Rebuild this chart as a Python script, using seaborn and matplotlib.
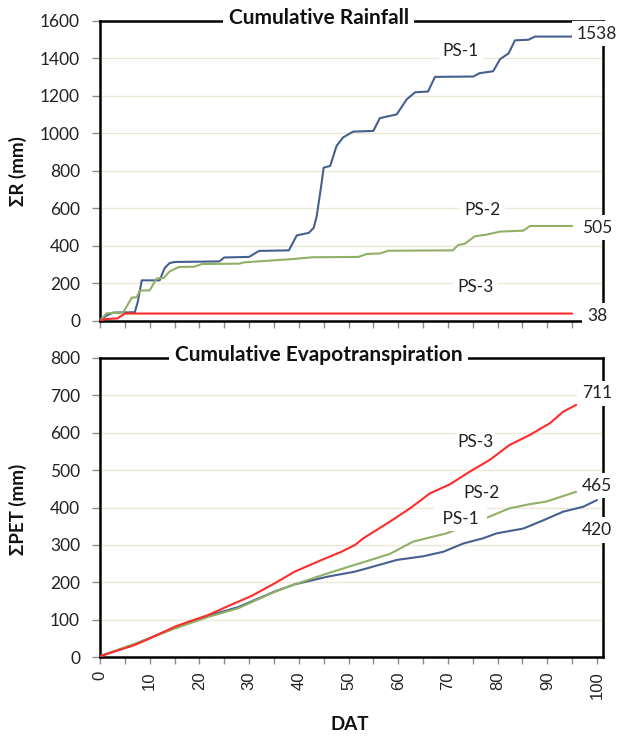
import matplotlib
matplotlib.use("Agg")
import matplotlib.pyplot as plt
import matplotlib.transforms as mtransforms
import seaborn as sns
import pandas as pd

# ---------------- data ----------------
series_names = ["PS-1", "PS-2", "PS-3"]
series_colors = ["#45608f", "#8fb065", "#ff2b2b"]

# Cumulative rainfall (mm) vs days after transplanting
rain_ps1_dat = [0, 1.3, 2.7, 7.0, 7.6, 8.4, 12.0, 13.0, 14.0, 15.0, 24.0, 25.0, 30.0, 32.0, 38.0,
                39.6, 42.0, 43.0, 43.6, 44.6, 45.0, 46.3, 47.6, 48.9, 50.9, 55.0, 56.3, 59.7, 61.7,
                63.4, 66.0, 67.4, 75.1, 76.4, 79.1, 80.5, 82.2, 83.5, 86.2, 87.5, 95.0]
rain_ps1_mm = [0, 27, 43, 45, 100, 215, 215, 280, 307, 313, 316, 337, 340, 372, 375,
               455, 468, 495, 557, 736, 816, 825, 932, 977, 1008, 1012, 1080, 1100, 1180,
               1218, 1222, 1300, 1302, 1320, 1330, 1395, 1425, 1495, 1498, 1515, 1515]
rain_ps2_dat = [0, 1.3, 4.7, 6.4, 7.4, 8.0, 10.0, 11.4, 12.8, 14.0, 15.8, 19.0, 20.5, 28.0, 29.0,
                34.0, 39.0, 42.6, 52.0, 53.7, 56.3, 58.0, 71.0, 72.1, 73.4, 75.4, 77.8, 80.5,
                85.2, 86.5, 95.0]
rain_ps2_mm = [0, 39, 45, 123, 125, 160, 162, 225, 228, 262, 286, 288, 302, 304, 311,
               320, 329, 338, 340, 356, 358, 373, 375, 404, 410, 450, 459, 475,
               480, 505, 505]
rain_ps3_dat = [0, 1.0, 3.5, 5.0, 95.0]
rain_ps3_mm = [0, 8, 12, 38, 38]

# Cumulative evapotranspiration (mm)
pet_ps1_dat = [0, 7, 15, 21.8, 27.8, 35.2, 39.2, 46, 51, 53, 59.7, 65.1, 69.1, 73.1, 77.1, 79.8,
               85.2, 89.2, 93.2, 97.2, 100]
pet_ps1_mm = [3, 35, 79, 111, 134, 176, 195, 216, 228, 235, 260, 270, 282, 304, 318, 331,
              344, 366, 389, 402, 420]
pet_ps2_dat = [0, 7, 15.1, 21.8, 27.8, 35.2, 39.2, 46, 51, 53, 58.3, 63, 69.7, 77.5, 82.4, 86.5,
               89.8, 95.8]
pet_ps2_mm = [3, 36, 77, 108, 131, 175, 195, 225, 246, 254, 276, 309, 331, 371, 398, 409,
              416, 442]
pet_ps3_dat = [0, 7, 10.1, 15.1, 17.8, 21.8, 25.8, 30.5, 35.2, 39.2, 44.6, 48.6, 51.3, 53, 57.7,
               62.4, 66.4, 70.4, 74.4, 78.4, 82.4, 86.5, 90.5, 93.2, 95.8]
pet_ps3_mm = [3, 33, 51, 82, 95, 113, 137, 164, 198, 229, 260, 282, 300, 318, 357,
              398, 438, 462, 496, 527, 567, 594, 625, 656, 674]

# labels
rain_total_labels = ["1538", "505", "38"]
rain_total_y = [1530, 495, 25]
rain_name_xy = [(72.6, 1436), (76.9, 591), (75.5, 180)]
pet_total_labels = ["711", "465", "420"]
pet_total_y = [705, 458, 340]
pet_name_xy = [(72.5, 369), (76.7, 438), (75.5, 575)]

title_rain = "Cumulative Rainfall"
title_pet = "Cumulative Evapotranspiration"
ylabel_rain = "ΣR (mm)"
ylabel_pet = "ΣPET (mm)"
xlabel = "DAT"

x_ticks_major = list(range(0, 101, 10))
x_ticks_minor = list(range(5, 100, 10))
x_ticks_top = list(range(0, 96, 5))
rain_yticks = list(range(0, 1601, 200))
pet_yticks = list(range(0, 801, 100))

# ---------------- frames ----------------
def long_df(pairs):
    frames = []
    for name, (xs, ys) in zip(series_names, pairs):
        frames.append(pd.DataFrame({"DAT": xs, "mm": ys, "series": name}))
    return pd.concat(frames, ignore_index=True)

rain_df = long_df([(rain_ps1_dat, rain_ps1_mm), (rain_ps2_dat, rain_ps2_mm), (rain_ps3_dat, rain_ps3_mm)])
pet_df = long_df([(pet_ps1_dat, pet_ps1_mm), (pet_ps2_dat, pet_ps2_mm), (pet_ps3_dat, pet_ps3_mm)])
palette = dict(zip(series_names, series_colors))

# ---------------- style ----------------
sns.set_theme(style="ticks")
plt.rcParams["font.family"] = ["Lato", "DejaVu Sans"]

fig = plt.figure(figsize=(6.21, 7.37), dpi=100)
ax1 = fig.add_axes([0.1610, 0.5649, 0.8100, 0.4071])
ax2 = fig.add_axes([0.1610, 0.1081, 0.8100, 0.4065])

text_color = "#222222"
grid_color = "#ebe7d9"

for ax, df in ((ax1, rain_df), (ax2, pet_df)):
    sns.lineplot(data=df, x="DAT", y="mm", hue="series", palette=palette,
                 estimator=None, linewidth=1.5, legend=False, ax=ax, zorder=3)
    ax.set_xlim(0, 101.2)
    ax.set_xlabel("")
    ax.set_ylabel("")
    ax.yaxis.grid(True, color=grid_color, linewidth=1.0)
    ax.set_axisbelow(True)
    for s in ax.spines.values():
        s.set_visible(True)
        s.set_color("black")
        s.set_linewidth(1.8)
        s.set_zorder(2.5)
    ax.tick_params(axis="y", which="both", direction="out", length=5.8, width=1,
                   color="#8c8c8c", labelsize=12.5, labelcolor=text_color, pad=8.5)
    ax.tick_params(axis="x", which="both", direction="out", length=5, width=1,
                   color="#8c8c8c")

# top panel
ax1.set_ylim(0, 1600)
ax1.set_yticks(rain_yticks)
ax1.set_xticks(x_ticks_top)
ax1.set_xticklabels([])

# bottom panel
ax2.set_ylim(0, 800)
ax2.set_yticks(pet_yticks)
ax2.set_xticks(x_ticks_major)
ax2.set_xticks(x_ticks_minor, minor=True)
ax2.set_xticklabels([str(t) for t in x_ticks_major], rotation=90,
                    family="Liberation Sans", fontsize=12, color=text_color)
ax2.tick_params(axis="x", which="major", pad=5)


def put_label(ax, x, y, s, pad):
    ax.text(x, y, s, ha="center", va="center", fontsize=12.5, color=text_color,
            zorder=6, clip_on=False,
            bbox=dict(facecolor="white", edgecolor="none", pad=pad))


for lab, y in zip(rain_total_labels, rain_total_y):
    put_label(ax1, 100.0, y, lab, 3.2)
for lab, (x, y) in zip(series_names, rain_name_xy):
    put_label(ax1, x, y, lab, 3.0)
for lab, y in zip(pet_total_labels, pet_total_y):
    put_label(ax2, 100.0, y, lab, 3.2)
# PS-1 label in the lower panel has a wider white box (it hides part of the PS-2 line)
put_label(ax2, pet_name_xy[0][0], pet_name_xy[0][1], " " + series_names[0] + " ", 3.0)
put_label(ax2, pet_name_xy[1][0], pet_name_xy[1][1], series_names[1], 3.0)
put_label(ax2, pet_name_xy[2][0], pet_name_xy[2][1], series_names[2], 1.0)

# titles sitting on the top frame
for ax, title in ((ax1, title_rain), (ax2, title_pet)):
    trans = mtransforms.blended_transform_factory(ax.transData, ax.transAxes)
    ax.text(44.0, 1.008, title, transform=trans, ha="center", va="center",
            fontsize=15, fontweight="bold", color="#111111", zorder=6, clip_on=False,
            bbox=dict(facecolor="white", edgecolor="none", pad=4))

# axis labels
fig.text(17.5 / 621, 1 - 171 / 737, ylabel_rain, rotation=90, ha="center", va="center",
         fontsize=13.5, fontweight="bold", color="#111111")
fig.text(17.5 / 621, 1 - 509 / 737, ylabel_pet, rotation=90, ha="center", va="center",
         fontsize=13.5, fontweight="bold", color="#111111")
fig.text(350 / 621, 1 - 725 / 737, xlabel, ha="center", va="center",
         fontsize=13.5, fontweight="bold", color="#111111")

fig.savefig("out.png", dpi=100, facecolor="white")
